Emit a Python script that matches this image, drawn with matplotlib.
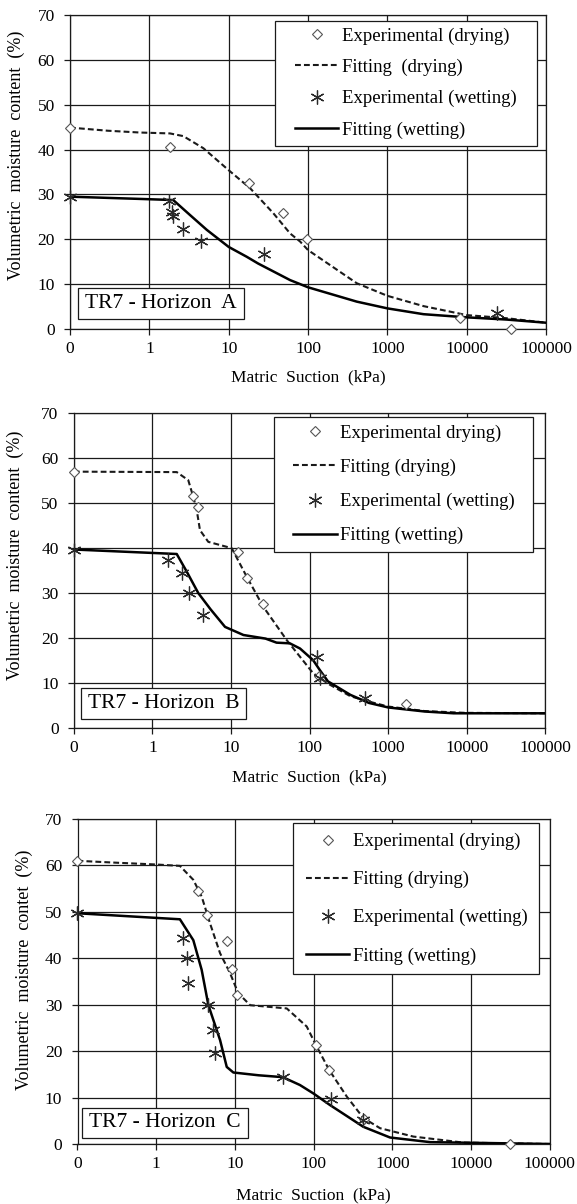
import matplotlib
matplotlib.use("Agg")
import matplotlib.pyplot as plt
from matplotlib.patches import Rectangle

plt.rcParams['font.family'] = ['Liberation Serif', 'DejaVu Serif']

# ---------------- data ----------------
# x ticks (first tick "0" drawn at 0.1 on the log scale)
xtick_vals = [0.1, 1, 10, 100, 1000, 10000, 100000]
xtick_labels = ['0', '1', '10', '100', '1000', '10000', '100000']
ytick_vals = [0, 10, 20, 30, 40, 50, 60, 70]

# Panel A
a_dry_exp_x = [0.1, 1.82, 18.0, 48.8, 96.8, 8240, 36100]
a_dry_exp_y = [44.9, 40.6, 32.6, 25.8, 20.1, 2.4, 0.0]
a_wet_exp_x = [0.1, 1.79, 1.92, 1.97, 2.68, 4.49, 27.7, 24300]
a_wet_exp_y = [29.5, 28.6, 26.1, 25.2, 22.2, 19.6, 16.7, 3.5]
a_dry_fit_x = [0.1, 0.3, 0.76, 1.82, 2.68, 4.8, 10, 18.6, 36.6, 59.5, 79.5, 100, 412, 1000, 2860, 10000, 32100, 100000]
a_dry_fit_y = [44.9, 44.2, 43.8, 43.6, 43.0, 40.3, 35.4, 31.4, 25.8, 21.3, 19.5, 17.6, 10.2, 7.4, 5.1, 3.1, 2.4, 1.4]
a_wet_fit_x = [0.1, 0.76, 2.0, 3.26, 5.3, 10, 16.9, 23.5, 59.5, 100, 412, 1000, 2860, 10000, 32100, 100000]
a_wet_fit_y = [29.5, 29.0, 28.75, 25.4, 22.1, 18.3, 16.1, 14.6, 10.9, 9.3, 6.1, 4.6, 3.3, 2.6, 2.1, 1.4]

# Panel B
b_dry_exp_x = [0.1, 3.28, 3.82, 12.4, 16.1, 25.6, 130, 1680]
b_dry_exp_y = [56.8, 51.6, 49.1, 39.0, 33.2, 27.6, 11.5, 5.3]
b_wet_exp_x = [0.1, 1.57, 2.38, 2.95, 4.4, 124, 135, 507]
b_wet_exp_y = [39.6, 37.3, 34.4, 30.0, 25.0, 15.7, 11.0, 6.6]
b_dry_fit_x = [0.1, 2.04, 2.86, 3.31, 3.66, 4.03, 5.14, 10.2, 15.8, 25.7, 51, 111, 171, 330, 570, 1000, 2900, 9500, 100000]
b_dry_fit_y = [56.9, 56.8, 55.0, 51.3, 48.4, 43.9, 41.3, 39.9, 33.6, 26.9, 19.5, 12.1, 9.8, 7.0, 5.8, 4.7, 3.7, 3.3, 3.2]
b_wet_fit_x = [0.1, 2.04, 2.73, 3.84, 5.5, 8.4, 14.4, 27.5, 38, 56, 75.5, 111, 135, 171, 330, 570, 1000, 2900, 6800, 100000]
b_wet_fit_y = [39.6, 38.6, 34.7, 29.9, 26.3, 22.4, 20.6, 19.8, 18.9, 18.75, 17.6, 15.0, 12.8, 10.3, 7.3, 5.5, 4.5, 3.6, 3.2, 3.2]

# Panel C
c_dry_exp_x = [0.1, 3.43, 4.38, 7.9, 9.1, 10.5, 107, 158, 430, 31600]
c_dry_exp_y = [61.0, 54.6, 49.3, 43.7, 37.8, 32.2, 21.3, 15.9, 5.3, 0.0]
c_wet_exp_x = [0.1, 2.17, 2.48, 2.51, 4.6, 5.32, 5.59, 40.5, 166, 428]
c_wet_exp_y = [49.7, 44.3, 40.0, 34.6, 29.9, 24.5, 19.5, 14.4, 9.7, 5.2]
c_dry_fit_x = [0.1, 0.3, 1.0, 2.0, 2.96, 3.78, 4.83, 6.47, 8.67, 11.0, 15.6, 45.5, 81.7, 107, 158, 264, 428, 698, 1850, 8000, 100000]
c_dry_fit_y = [61.0, 60.6, 60.2, 59.9, 56.9, 53.3, 47.5, 41.1, 36.8, 32.5, 29.9, 29.2, 25.3, 21.3, 15.9, 10.2, 5.6, 3.4, 1.6, 0.3, 0.0]
c_wet_fit_x = [0.1, 2.0, 2.96, 3.78, 4.6, 6.47, 7.87, 9.55, 20, 40.5, 67, 99, 161, 428, 934, 3020, 100000]
c_wet_fit_y = [49.7, 48.4, 43.9, 37.5, 29.9, 22.4, 16.6, 15.4, 14.8, 14.4, 12.7, 10.9, 8.4, 3.7, 1.4, 0.4, 0.0]

panels = [
    dict(name='TR7 - Horizon  A',
         dry_exp=(a_dry_exp_x, a_dry_exp_y), wet_exp=(a_wet_exp_x, a_wet_exp_y),
         dry_fit=(a_dry_fit_x, a_dry_fit_y), wet_fit=(a_wet_fit_x, a_wet_fit_y),
         labels=['Experimental (drying)', 'Fitting  (drying)', 'Experimental (wetting)', 'Fitting (wetting)'],
         ylabel='Volumetric  moisture  content  (%)'),
    dict(name='TR7 - Horizon  B',
         dry_exp=(b_dry_exp_x, b_dry_exp_y), wet_exp=(b_wet_exp_x, b_wet_exp_y),
         dry_fit=(b_dry_fit_x, b_dry_fit_y), wet_fit=(b_wet_fit_x, b_wet_fit_y),
         labels=['Experimental drying)', 'Fitting (drying)', 'Experimental (wetting)', 'Fitting (wetting)'],
         ylabel='Volumetric  moisture  content  (%)'),
    dict(name='TR7 - Horizon  C',
         dry_exp=(c_dry_exp_x, c_dry_exp_y), wet_exp=(c_wet_exp_x, c_wet_exp_y),
         dry_fit=(c_dry_fit_x, c_dry_fit_y), wet_fit=(c_wet_fit_x, c_wet_fit_y),
         labels=['Experimental (drying)', 'Fitting (drying)', 'Experimental (wetting)', 'Fitting (wetting)'],
         ylabel='Volumetric  moisture  contet  (%)'),
]

# ---------------- layout (pixels of a 577x1204 figure) ----------------
W, H = 577, 1204
axes_px = [(70, 546, 15, 329), (73.8, 545.4, 412.7, 727.7), (77.5, 549.8, 819, 1144)]
legend_rect = [(0.4307, 0.981, 0.583, 0.981), (0.4245, 0.974, 0.5578, 0.9863), (0.4563, 0.978, 0.523, 0.9877)]
legend_anchor = [(0.4727, 0.7834), (0.4657, 0.772), (0.4844, 0.7548)]
legend_spacing = [0.75, 0.90, 1.11]
name_rect = [(0.0168, 0.3645, 0.0318, 0.1306), (0.0153, 0.3662, 0.0276, 0.126), (0.0095, 0.361, 0.0185, 0.1108)]
xlabel_y = [-0.153, -0.1565, -0.157]
ylabel_x = [-0.112, -0.125, -0.113]
ylabel_y = [0.554, 0.548, 0.535]

fig = plt.figure(figsize=(W / 100, H / 100), dpi=100)

asterisk = (6, 2, 0)
for i, p in enumerate(panels):
    l, r, t, b = axes_px[i]
    ax = fig.add_axes([l / W, 1 - b / H, (r - l) / W, (b - t) / H])
    ax.set_xscale('log')
    ax.set_xlim(0.1, 100000)
    ax.set_ylim(0, 70)
    ax.set_xticks(xtick_vals)
    ax.set_xticklabels(xtick_labels)
    ax.xaxis.set_minor_locator(matplotlib.ticker.NullLocator())
    ax.set_yticks(ytick_vals)
    ax.grid(True, which='major', color='#1a1a1a', linewidth=0.9)
    ax.set_axisbelow(True)
    for s in ax.spines.values():
        s.set_color('#1a1a1a')
        s.set_linewidth(0.9)
    ax.tick_params(axis='both', direction='out', length=4, width=0.9, colors='#1a1a1a',
                   labelsize=12.5, labelcolor='black')
    ax.tick_params(axis='x', pad=4.5)
    ax.tick_params(axis='y', pad=7.0)

    h_dfit, = ax.plot(*p['dry_fit'], color='#1a1a1a', lw=1.5, dashes=(2.8, 1.5), zorder=3)
    h_wfit, = ax.plot(*p['wet_fit'], color='black', lw=1.8, zorder=3)
    h_dexp, = ax.plot(*p['dry_exp'], linestyle='none', marker='D', markersize=5.2,
                      markerfacecolor='white', markeredgecolor='#555555', markeredgewidth=0.8,
                      zorder=4, clip_on=False)
    h_wexp, = ax.plot(*p['wet_exp'], linestyle='none', marker=asterisk, markersize=10,
                      color='#2a2a2a', markeredgewidth=0.9, zorder=4, clip_on=False)

    ax.set_xlabel('Matric  Suction  (kPa)', fontsize=12.5)
    ax.xaxis.set_label_coords(0.5, xlabel_y[i])
    ax.xaxis.label.set_va('center')
    ax.set_ylabel(p['ylabel'], fontsize=13)
    ax.yaxis.set_label_coords(ylabel_x[i], ylabel_y[i])
    ax.yaxis.label.set_va('center')

    # legend frame
    x0, x1, y0, y1 = legend_rect[i]
    ax.add_patch(Rectangle((x0, y0), x1 - x0, y1 - y0, transform=ax.transAxes,
                           facecolor='white', edgecolor='#1a1a1a', lw=0.9, zorder=6))
    leg = ax.legend([h_dexp, h_dfit, h_wexp, h_wfit], p['labels'],
                    loc='center left', bbox_to_anchor=legend_anchor[i],
                    frameon=False, borderpad=0, borderaxespad=0,
                    fontsize=13.5, handlelength=2.3, handletextpad=0.2,
                    labelspacing=legend_spacing[i])
    leg.set_zorder(7)

    # name box
    x0, x1, y0, y1 = name_rect[i]
    ax.add_patch(Rectangle((x0, y0), x1 - x0, y1 - y0, transform=ax.transAxes,
                           facecolor='white', edgecolor='#1a1a1a', lw=0.9, zorder=6))
    ax.text((x0 + x1) / 2, (y0 + y1) / 2, p['name'], transform=ax.transAxes,
            ha='center', va='center', fontsize=15.5, zorder=7)

fig.savefig('out.png', dpi=100)
